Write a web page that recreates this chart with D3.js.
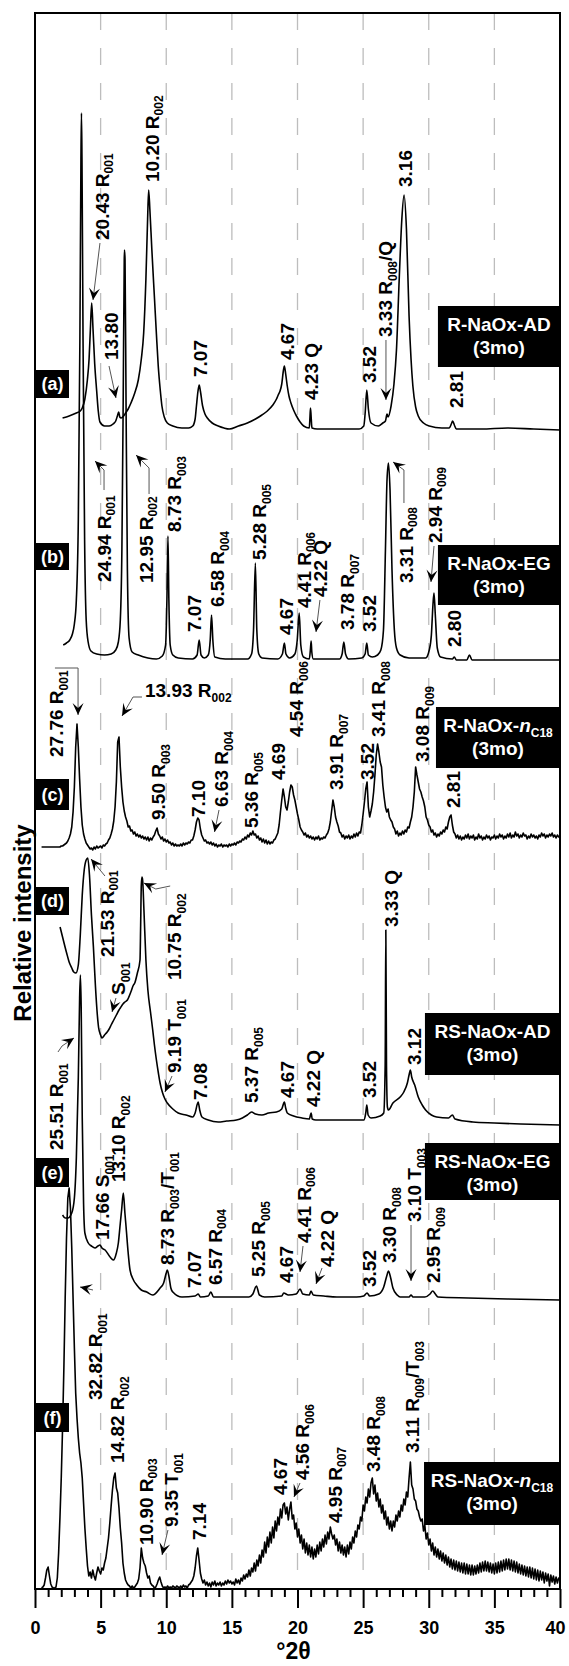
<!DOCTYPE html>
<html>
<head>
<meta charset="utf-8">
<script src="https://cdn.jsdelivr.net/npm/d3@7"></script>
<style>
body { margin: 0; background: #fff; }
text { font-family: "Liberation Sans", Arial, sans-serif; font-weight: bold; }
</style>
</head>
<body>
<svg id="chart" width="569" height="1666"></svg>
<script>
// x axis ticks (degrees 2-theta)
var xTicks = [0, 5, 10, 15, 20, 25, 30, 35, 40];
var gridAt = [5, 10, 15, 20, 25, 30, 35];

var sampleIds = ['(a)', '(b)', '(c)', '(d)', '(e)', '(f)'];
var sampleNames = ['R-NaOx-AD', 'R-NaOx-EG', 'R-NaOx-~n_C18', 'RS-NaOx-AD', 'RS-NaOx-EG', 'RS-NaOx-~n_C18'];
var sampleAge = '(3mo)';

// vertical offset of each pattern (same units as intensity)
var offsets = [1160, 929, 742, 464, 291, 1];

// [2theta, intensity above own baseline]
var traceA = [[2.1,11],[2.6,13],[3.15,16],[3.45,18],[3.6,21],[3.8,30],[3.99,49],[4.12,70],[4.22,100],[4.32,126],[4.42,100],[4.55,65],[4.7,38],[4.82,18],[4.95,7],[5.3,3],[5.65,3],[5.95,5],[6.15,8],[6.3,14],[6.38,17],[6.46,12],[6.56,11],[6.75,13],[6.9,16],[7.1,20],[7.31,26],[7.6,36],[7.87,49],[8.1,70],[8.28,96],[8.45,150],[8.58,210],[8.66,239],[8.75,220],[8.9,180],[9.11,129],[9.25,95],[9.39,63],[9.55,38],[9.67,23],[9.85,12],[10.08,6],[10.5,3],[11.19,1],[11.7,1],[12.02,3],[12.2,10],[12.3,23],[12.42,38],[12.51,44],[12.6,38],[12.77,23],[12.95,15],[13.13,11],[13.5,6],[13.96,3],[14.4,1],[14.8,0],[15.5,3],[16.18,6],[16.8,10],[17.29,14],[17.7,18],[18.12,24],[18.4,30],[18.53,34],[18.67,38],[18.8,45],[18.92,58],[19.0,63],[19.1,55],[19.22,43],[19.35,33],[19.5,26],[19.7,19],[19.92,13],[20.2,7],[20.47,3],[20.9,1],[20.95,12],[20.99,21],[21.04,12],[21.1,1],[21.5,0],[24.7,0],[25.05,3],[25.15,15],[25.28,39],[25.4,20],[25.6,6],[26.16,3],[26.5,6],[26.7,8],[26.82,15],[26.9,12],[27.13,23],[27.35,45],[27.54,79],[27.75,150],[27.95,210],[28.12,234],[28.3,200],[28.5,113],[28.65,70],[28.79,43],[29.0,22],[29.2,13],[29.6,6],[30.04,3],[31.0,1],[31.56,1],[31.72,5],[31.82,8],[31.95,4],[32.1,0],[34,0],[36,1],[38,0],[40,-1]];

var traceB = [[2.15,15],[2.4,17],[2.65,20],[2.85,26],[3.0,36],[3.15,60],[3.3,140],[3.42,320],[3.5,500],[3.54,547],[3.58,500],[3.66,320],[3.78,120],[3.9,40],[4.05,18],[4.26,9],[4.7,6],[5.3,5],[5.8,6],[6.15,10],[6.35,18],[6.5,40],[6.62,110],[6.72,260],[6.8,400],[6.82,410],[6.86,400],[6.94,250],[7.04,90],[7.17,22],[7.4,8],[7.87,5],[8.6,2],[9.25,1],[9.7,4],[9.95,15],[10.05,60],[10.13,124],[10.2,60],[10.3,15],[10.5,5],[10.92,2],[12.0,1],[12.35,5],[12.51,20],[12.65,5],[12.9,2],[13.2,5],[13.35,20],[13.45,45],[13.55,20],[13.7,3],[14.5,1],[16.2,1],[16.5,6],[16.65,30],[16.79,97],[16.9,30],[17.05,6],[17.3,2],[18.5,1],[18.85,6],[19.0,17],[19.12,6],[19.4,2],[19.8,6],[19.98,20],[20.13,47],[20.25,15],[20.45,3],[20.9,1],[20.98,10],[21.04,19],[21.09,8],[21.2,1],[23.2,1],[23.4,6],[23.53,18],[23.66,6],[23.9,1],[24.9,2],[25.15,6],[25.28,17],[25.4,5],[25.7,3],[26.1,5],[26.35,10],[26.55,30],[26.7,110],[26.82,180],[26.93,197],[27.05,170],[27.2,90],[27.38,30],[27.54,12],[27.82,5],[28.5,2],[29.76,2],[30.04,10],[30.2,25],[30.32,55],[30.4,67],[30.5,45],[30.65,12],[30.9,3],[31.8,1],[31.95,3],[32.1,0],[32.9,0],[33.1,5],[33.3,0],[40,0]];

// pattern (c): one value every 0.1 deg from 0.5
var cStart = 0.5, cStep = 0.1;
var traceC = [0,0,0,0,0,
0,0,0,0,0,0,0,0,0,0,
1,1,2,3,4,6,9,13,20,35,
60,100,123,100,68,40,22,13,8,4,
2,0,-2,-1,-3,0,-2,1,-1,0,
1,-1,2,1,3,4,7,9,13,18,
26,40,65,105,110,80,60,45,36,30,
26,20,21,16,17,13,15,11,13,10,
12,9,11,8,10,7,10,6,9,7,
10,12,16,19,13,11,8,10,6,8,
5,7,4,5,2,4,1,3,1,2,
1,3,1,4,2,4,3,5,4,7,
7,11,17,25,29,27,18,12,9,6,
7,4,5,3,5,2,4,1,3,0,
2,1,3,0,2,1,2,0,3,1,
3,2,4,2,5,4,6,5,8,7,
10,8,12,10,14,12,16,12,13,9,
11,7,9,5,8,4,7,3,6,3,
5,4,7,8,11,14,22,35,47,58,
50,40,37,45,55,62,60,52,47,40,
33,27,20,17,15,12,14,10,12,9,
11,8,10,7,10,8,11,7,9,8,
10,9,12,14,18,25,36,47,40,30,
25,21,15,14,10,12,8,11,9,12,
8,11,9,13,10,14,11,15,14,22,
33,45,58,65,40,30,36,43,55,72,
92,103,95,85,80,62,50,40,35,38,
30,27,25,20,18,13,16,11,14,12,
16,13,17,15,20,19,25,30,40,55,
80,72,65,58,55,50,46,40,30,27,
22,20,15,17,12,14,10,13,11,15,
13,17,15,20,18,25,30,32,22,15,
13,9,12,8,11,7,10,8,12,9,
13,8,11,9,12,7,10,8,13,9,
11,7,10,8,12,9,11,7,10,9,
12,8,11,9,13,10,12,8,11,9,
13,10,14,9,12,10,15,11,13,9,
12,10,14,11,12,8,11,9,13,10,
12,9,11,8,12,10,14,11,13,9,
12,10,13,11,14,10,12,9,12,10,
11];

var traceD = [[1.91,198],[2.1,188],[2.41,172],[2.6,163],[2.8,157],[2.95,153],[3.12,152],[3.3,160],[3.45,190],[3.6,230],[3.75,255],[3.9,265],[4.02,267],[4.15,250],[4.3,210],[4.45,178],[4.6,140],[4.75,110],[4.85,97],[5.0,90],[5.1,87],[5.3,90],[5.5,93],[5.65,96],[5.8,100],[6.0,105],[6.2,110],[6.4,115],[6.5,117],[6.7,121],[6.85,123],[7.04,125],[7.3,133],[7.5,140],[7.6,142],[7.8,152],[8.0,165],[8.05,200],[8.1,240],[8.15,248],[8.2,245],[8.3,215],[8.45,165],[8.6,135],[8.8,113],[8.97,95],[9.1,80],[9.25,65],[9.4,52],[9.53,42],[9.7,33],[9.9,26],[10.08,22],[10.5,16],[10.91,12],[11.5,10],[12.02,8],[12.2,12],[12.43,23],[12.55,15],[12.72,8],[13.2,5],[13.96,3],[14.6,4],[15.35,5],[15.8,7],[16.18,10],[16.5,13],[16.8,11],[17.29,10],[17.8,12],[18.4,13],[18.8,16],[19.0,23],[19.1,17],[19.22,12],[19.7,9],[20.34,7],[20.9,6],[21.04,12],[21.12,6],[21.4,5],[23.0,5],[25.05,5],[25.2,12],[25.28,20],[25.38,10],[25.6,7],[26.3,9],[26.57,12],[26.68,60],[26.73,195],[26.78,60],[26.85,18],[26.93,15],[27.27,22],[27.82,28],[28.1,33],[28.37,42],[28.5,50],[28.6,55],[28.7,48],[28.93,40],[29.2,28],[29.5,20],[29.76,15],[30.2,10],[30.6,8],[31.5,7],[31.8,10],[32.0,6],[33.36,3],[35,2],[37,1],[40,0]];

var traceE = [[2.1,83],[2.3,80],[2.5,80],[2.8,85],[3.0,100],[3.15,140],[3.3,220],[3.4,300],[3.46,323],[3.52,290],[3.6,180],[3.7,95],[3.8,65],[4.06,55],[4.3,52],[4.57,50],[4.8,52],[4.95,53],[5.1,50],[5.34,48],[5.72,41],[5.97,38],[6.2,45],[6.35,55],[6.5,75],[6.6,88],[6.73,105],[6.85,85],[6.94,71],[7.1,45],[7.24,28],[7.5,18],[7.75,13],[8.1,8],[8.51,6],[8.97,3],[9.53,10],[9.8,15],[10.0,25],[10.08,28],[10.2,22],[10.35,10],[10.5,6],[11.2,1],[12.2,2],[12.44,4],[12.6,1],[13.2,2],[13.4,6],[13.6,1],[16.3,1],[16.6,4],[16.87,12],[17.1,3],[17.5,1],[18.8,2],[18.95,5],[19.3,3],[19.9,4],[20.2,9],[20.4,4],[20.9,3],[21.03,7],[21.2,3],[22,2],[23.0,1],[24.5,1],[25.05,2],[25.3,5],[25.5,2],[26.2,4],[26.57,11],[26.8,22],[26.93,27],[27.1,20],[27.27,10],[27.6,3],[27.82,1],[28.5,1],[28.65,3],[28.8,1],[29.7,1],[30.1,4],[30.3,7],[30.5,4],[30.7,1],[33,0],[36,-1],[40,-2]];

// pattern (f): one value every 0.1 deg from 0.5
var fStart = 0.5, fStep = 0.1;
var traceF = [0,1,3,10,18,
21,12,4,1,0,0,1,10,35,70,
110,160,220,290,350,390,400,380,340,290,
240,195,170,150,135,125,110,85,60,40,
22,12,16,10,18,12,8,15,21,17,
14,20,18,25,30,40,50,65,82,98,
110,115,100,95,80,60,45,25,15,8,
5,3,2,0,2,0,1,3,5,9,
20,40,30,25,22,15,10,12,5,3,
2,0,1,4,8,11,6,2,0,1,
0,2,0,1,0,2,1,0,2,1,
0,2,0,3,1,2,0,3,4,6,
8,12,20,32,40,28,15,9,5,8,
3,6,2,5,1,6,3,7,2,5,
3,6,2,5,3,7,4,8,5,7,
4,6,3,9,5,8,4,10,7,13,
9,14,11,18,12,20,16,25,17,28,
22,33,25,38,31,46,35,51,41,56,
45,61,50,67,57,71,63,79,70,83,
85,74,81,68,79,86,69,73,59,65,
51,59,45,53,39,49,35,45,33,43,
31,41,29,39,31,43,34,46,37,49,
41,53,44,56,49,61,54,49,53,43,
49,37,46,35,43,33,41,31,43,34,
46,39,51,45,57,51,63,59,71,67,
83,77,91,85,99,91,105,110,94,103,
87,95,81,89,75,83,69,77,63,71,
59,67,57,67,61,73,67,77,71,83,
77,89,83,96,91,110,126,103,99,89,
87,79,77,71,67,69,57,63,49,55,
43,49,37,45,33,41,31,39,29,37,
27,35,25,33,23,31,21,29,19,28,
18,27,17,26,16,25,15,25,14,24,
14,23,13,23,13,22,14,23,15,25,
16,26,17,27,17,26,16,25,15,24,
14,25,15,26,16,27,17,28,18,29,
19,29,18,28,17,27,16,26,15,24,
14,23,13,22,12,21,11,21,10,20,
9,19,8,18,7,17,8,16,5,15,
7,14,2,13,6,12,4,11,5,10,
10];

// peak labels: text (_ = subscript), 2theta of label, intensity at label start
var labelsA = [['20.43 R_001',5.08,1349],['10.20 R_002',8.89,1407],['13.80',5.79,1229],['7.07',12.57,1212],['4.67',19.2,1229],['4.23 Q',21.03,1189],['3.52',25.45,1206],['3.33 R_008/Q',26.7,1252],['3.16',28.19,1402],['2.81',32.08,1181]];
var labelsB = [['24.94 R_001',5.23,1007],['12.95 R_002',8.42,1006],['8.73 R_003',10.59,1057],['7.07',12.15,957],['6.58 R_004',13.9,982],['5.28 R_005',17.07,1029],['4.67',19.09,954],['4.41 R_006',20.46,981],['4.22 Q',21.71,992],['3.78 R_007',23.77,959],['3.52',25.45,957],['3.31 R_008',28.23,1006],['2.94 R_009',30.44,1046],['2.80',31.96,942]];
var labelsC = [['27.76 R_001',1.63,832],['9.50 R_003',9.37,769],['7.10',12.42,772],['6.63 R_004',14.17,782],['5.36 R_005',16.46,761],['4.69',18.51,809],['4.54 R_006',19.92,852],['3.91 R_007',22.93,799],['3.52',25.3,809],['3.41 R_008',26.13,852],['3.08 R_009',29.49,827],['2.81',31.85,781]];
var labelsD = [['21.53 R_001',5.46,632],['10.75 R_002',10.59,609],['S_001',6.32,594],['9.19 T_001',10.59,516],['7.08',12.57,489],['5.37 R_005',16.46,486],['4.67',19.2,491],['4.22 Q',21.18,482],['3.52',25.45,491],['3.33 Q',27.12,662],['3.12',28.91,524]];
var labelsE = [['25.51 R_001',1.63,439],['17.66 S_001',5.1,349],['13.10 R_002',6.32,407],['8.73 R_003/T_001',10.06,324],['7.07',12.15,301],['6.57 R_004',13.68,304],['5.25 R_005',16.99,312],['4.67',19.09,306],['4.41 R_006',20.46,346],['4.22 Q',22.25,322],['3.52',25.45,302],['3.30 R_008',26.97,326],['3.10 T_003',28.88,367],['2.95 R_009',30.32,306]];
var labelsF = [['32.82 R_001',4.57,189],['14.82 R_002',6.25,126],['10.90 R_003',8.42,44],['9.35 T_001',10.36,62],['7.14',12.5,49],['4.67',18.67,94],['4.56 R_006',20.34,109],['4.95 R_007',22.82,66],['3.48 R_008',25.75,117],['3.11 R_009/T_003',28.72,136]];
var flatLabels = [['13.93 R_002',8.38,892]];

// leader lines, arrow head at the last point
var arrowPaths = [
  [[4.95,1346],[4.42,1289]],
  [[5.64,1223],[6.17,1191]],
  [[26.74,1249],[26.74,1189]],
  [[5.26,1099],[5.26,1119],[4.57,1128]],
  [[8.69,1095],[8.69,1121],[7.7,1134]],
  [[21.71,989],[21.41,957]],
  [[28.11,1086],[28.11,1119],[27.28,1127]],
  [[30.4,1043],[30.17,1007]],
  [[1.52,921],[3.28,921],[3.28,874]],
  [[8.15,892],[7.47,892],[6.63,873]],
  [[14.02,779],[13.68,757]],
  [[5.33,713],[4.27,730]],
  [[10.3,703],[9.2,700],[8.3,706]],
  [[6.17,591],[5.87,577]],
  [[10.44,513],[9.9,497]],
  [[1.75,537],[2.06,543],[2.97,551]],
  [[20.42,343],[20.19,317]],
  [[21.87,321],[21.41,305]],
  [[28.65,364],[28.65,308]],
  [[4.42,299],[3.43,302]],
  [[10.13,59],[9.68,34]],
  [[20.19,106],[19.73,92]]
];

// name boxes: left 2theta, top, bottom
var nameBoxes = [[30.7,1283,1222],[30.7,1044,984],[30.55,882,821],[29.71,576,514],[29.71,446,389],[29.64,127,64]];
// id boxes: top, bottom
var idBoxes = [[1219,1191],[1046,1019],[810,779],[702,674],[431,402],[186,157]];

var svg = d3.select('#chart');
var xS = d3.scaleLinear().domain([0, 40]).range([35, 560]);
var yS = d3.scaleLinear().domain([0, 1576]).range([1589, 13]);

// dashed grid
svg.append('g').selectAll('line').data(gridAt).join('line')
  .attr('x1', function (d) { return xS(d); }).attr('x2', function (d) { return xS(d); })
  .attr('y1', yS(1576)).attr('y2', yS(0))
  .attr('stroke', '#bdbdbd').attr('stroke-width', 1.3).attr('stroke-dasharray', '17,18');

function regular(start, step, vals) {
  return vals.map(function (v, i) { return [start + i * step, v]; });
}
var traces = [
  { pts: traceA, off: offsets[0], curve: d3.curveMonotoneX },
  { pts: traceB, off: offsets[1], curve: d3.curveMonotoneX },
  { pts: regular(cStart, cStep, traceC), off: offsets[2], curve: d3.curveLinear },
  { pts: traceD, off: offsets[3], curve: d3.curveMonotoneX },
  { pts: traceE, off: offsets[4], curve: d3.curveMonotoneX },
  { pts: regular(fStart, fStep, traceF), off: offsets[5], curve: d3.curveLinear }
];
var lineG = svg.append('g');
traces.forEach(function (t) {
  var line = d3.line().curve(t.curve)
    .x(function (d) { return xS(d[0]); })
    .y(function (d) { return yS(d[1] + t.off); });
  lineG.append('path').attr('d', line(t.pts))
    .attr('fill', 'none').attr('stroke', '#000').attr('stroke-width', 1.6)
    .attr('stroke-linejoin', 'round');
});

// text with subscripts (_xxx) and italic (~x)
function rich(t, str, fs) {
  var parts = str.split(/(_[^\/ ]+|~\w)/);
  var low = false;
  var sh = fs * 0.24;
  parts.forEach(function (p) {
    if (!p) return;
    var ts;
    if (p[0] === '_') {
      ts = t.append('tspan').text(p.slice(1)).style('font-size', Math.round(fs * 0.64) + 'px');
      if (!low) ts.attr('dy', sh);
      low = true;
    } else {
      ts = t.append('tspan').text(p[0] === '~' ? p.slice(1) : p);
      if (p[0] === '~') ts.style('font-style', 'italic');
      if (low) ts.attr('dy', -sh);
      low = false;
    }
  });
}

var labG = svg.append('g');
[labelsA, labelsB, labelsC, labelsD, labelsE, labelsF].forEach(function (list) {
  list.forEach(function (l) {
    var t = labG.append('text')
      .attr('transform', 'translate(' + (xS(l[1]) + 7) + ',' + yS(l[2]) + ') rotate(-90)')
      .style('font-size', '19px');
    rich(t, l[0], 19);
  });
});
flatLabels.forEach(function (l) {
  var t = labG.append('text').attr('x', xS(l[1])).attr('y', yS(l[2])).style('font-size', '19px');
  rich(t, l[0], 19);
});

arrowPaths.forEach(function (a) {
  var p = a.map(function (d) { return [xS(d[0]), yS(d[1])]; });
  labG.append('path').attr('d', d3.line()(p))
    .attr('fill', 'none').attr('stroke', '#555').attr('stroke-width', 1);
  var e = p[p.length - 1], b = p[p.length - 2];
  var ang = Math.atan2(e[1] - b[1], e[0] - b[0]) * 180 / Math.PI;
  labG.append('path').attr('d', 'M0,0L-12,-5.5L-7,0L-12,5.5Z')
    .attr('transform', 'translate(' + e[0] + ',' + e[1] + ') rotate(' + ang + ')')
    .attr('fill', '#000');
});

// sample name boxes
var boxG = svg.append('g');
nameBoxes.forEach(function (b, i) {
  var x0 = xS(b[0]), x1 = xS(40), y0 = yS(b[1]), y1 = yS(b[2]);
  boxG.append('rect').attr('x', x0).attr('y', y0).attr('width', x1 - x0).attr('height', y1 - y0).attr('fill', '#000');
  var t = boxG.append('text').attr('x', (x0 + x1) / 2).attr('y', y0 + 25)
    .attr('text-anchor', 'middle').attr('fill', '#fff').style('font-size', '19px');
  rich(t, sampleNames[i], 19);
  boxG.append('text').attr('x', (x0 + x1) / 2).attr('y', y0 + 48)
    .attr('text-anchor', 'middle').attr('fill', '#fff').style('font-size', '19px').text(sampleAge);
});
idBoxes.forEach(function (b, i) {
  var x0 = xS(0) + 1, x1 = xS(2.59), y0 = yS(b[0]), y1 = yS(b[1]);
  boxG.append('rect').attr('x', x0).attr('y', y0).attr('width', x1 - x0).attr('height', y1 - y0).attr('fill', '#000');
  boxG.append('text').attr('x', (x0 + x1) / 2).attr('y', (y0 + y1) / 2 + 6)
    .attr('text-anchor', 'middle').attr('fill', '#fff').style('font-size', '18px').text(sampleIds[i]);
});

// frame
svg.append('rect').attr('x', xS(0)).attr('y', yS(1576))
  .attr('width', xS(40) - xS(0)).attr('height', yS(0) - yS(1576))
  .attr('fill', 'none').attr('stroke', '#000').attr('stroke-width', 2);

// x axis
var axG = svg.append('g').attr('transform', 'translate(0,' + yS(0) + ')')
  .call(d3.axisBottom(xS).tickValues(xTicks).tickSize(19).tickPadding(13).tickFormat(d3.format('d')));
axG.select('.domain').remove();
axG.selectAll('line').attr('stroke-width', 2);
axG.selectAll('text').attr('fill', '#000')
  .style('font-size', '18px').style('font-family', '"Liberation Sans", Arial, sans-serif').style('font-weight', 'bold');
// last label kept inside the page
axG.selectAll('text').filter(function (d) { return d === 40; }).attr('dx', -5);
var minor = d3.range(1, 40).filter(function (v) { return v % 5 !== 0; });
var mnG = svg.append('g').attr('transform', 'translate(0,' + yS(0) + ')')
  .call(d3.axisBottom(xS).tickValues(minor).tickSize(8).tickFormat(''));
mnG.select('.domain').remove();
mnG.selectAll('line').attr('stroke-width', 2);

svg.append('text').attr('x', xS(20) - 4).attr('y', 1659).attr('text-anchor', 'middle')
  .style('font-size', '23px').text('°2θ');
svg.append('text').attr('transform', 'translate(31,923) rotate(-90)').attr('text-anchor', 'middle')
  .style('font-size', '24px').text('Relative intensity');
</script>
</body>
</html>
